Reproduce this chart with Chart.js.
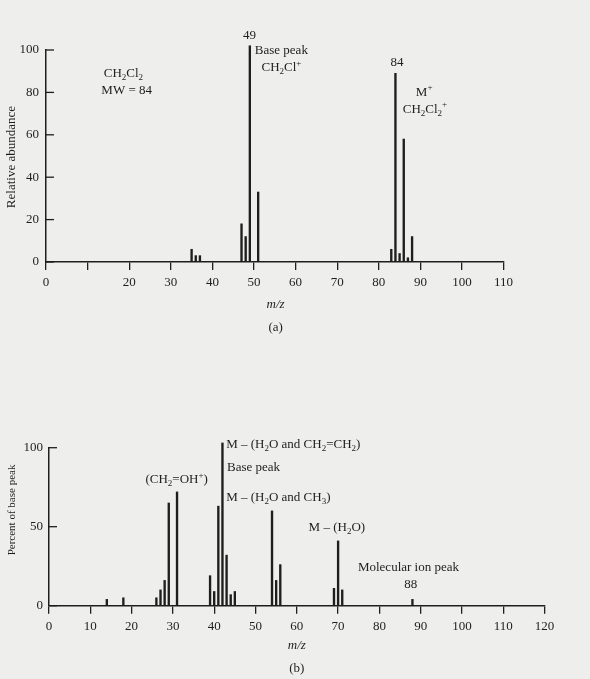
<!DOCTYPE html>
<html>
<head>
<meta charset="utf-8">
<script src="https://cdn.jsdelivr.net/npm/chart.js@4.4.0/dist/chart.umd.min.js"></script>
<style>
  html, body { margin: 0; padding: 0; background: #eeeeec; }
  #wrap { position: relative; width: 590px; height: 679px; overflow: hidden; }
  canvas { position: absolute; left: 0; }
</style>
</head>
<body>
<div id="wrap">
  <canvas id="spectrum-a" width="590" height="340" style="top:0"></canvas>
  <canvas id="spectrum-b" width="590" height="339" style="top:340px"></canvas>
</div>
<script>
// (a) CH2Cl2 spectrum
const mzA = [35, 36, 37, 47, 48, 49, 51, 83, 84, 85, 86, 87, 88];
const abundanceA = [6, 3, 3, 18, 12, 102, 33, 6, 89, 4, 58, 2, 12];
const yTicksA = [0, 20, 40, 60, 80, 100];

// (b) molecular ion 88 spectrum
const mzB = [14, 18, 26, 27, 28, 29, 31, 39, 40, 41, 42, 43, 44, 45, 54, 55, 56, 69, 70, 71, 88];
const percentB = [4, 5, 5, 10, 16, 65, 72, 19, 9, 63, 103, 32, 7, 9, 60, 16, 26, 11, 41, 10, 4];
const yTicksB = [0, 50, 100];

const INK = '#1e1e1e';
const SERIF = '"Liberation Serif", "Times New Roman", serif';

Chart.defaults.font.family = SERIF;
Chart.defaults.font.size = 13;
Chart.defaults.color = INK;

// draws text with sub/superscript parts: [text, 'sub'|'sup'|undefined]
function drawRich(ctx, parts, x, y, align, size, italic) {
    const style = italic ? 'italic ' : '';
    const fontFor = kind => style + (kind ? Math.round(size * 0.7) : size) + 'px ' + SERIF;
    let total = 0;
    parts.forEach(p => { ctx.font = fontFor(p[1]); total += ctx.measureText(p[0]).width; });
    let cx = align === 'center' ? x - total / 2 : (align === 'right' ? x - total : x);
    ctx.textAlign = 'left';
    ctx.textBaseline = 'middle';
    parts.forEach(p => {
        ctx.font = fontFor(p[1]);
        let dy = 0;
        if (p[1] === 'sub') dy = size * 0.3;
        if (p[1] === 'sup') dy = -size * 0.35;
        ctx.fillText(p[0], cx, y + dy);
        cx += ctx.measureText(p[0]).width;
    });
}

// y tick marks point into the plot, like the printed figure
const inwardTicks = {
    id: 'inwardTicks',
    afterDraw(chart, args, opts) {
        const ctx = chart.ctx;
        const y = chart.scales.y;
        const left = chart.chartArea.left;
        ctx.save();
        ctx.strokeStyle = INK;
        ctx.lineWidth = 1.3;
        y.ticks.forEach(t => {
            const py = y.getPixelForValue(t.value);
            ctx.beginPath();
            ctx.moveTo(left, py);
            ctx.lineTo(left + opts.length, py);
            ctx.stroke();
        });
        ctx.restore();
    }
};

// text labels placed in data coordinates (m/z, intensity)
const labels = {
    id: 'labels',
    afterDraw(chart, args, opts) {
        const ctx = chart.ctx;
        const xs = chart.scales.x, ys = chart.scales.y;
        ctx.save();
        ctx.fillStyle = INK;
        opts.items.forEach(it => {
            const px = xs.getPixelForValue(it.m);
            const py = ys.getPixelForValue(it.v);
            const size = it.size || 13;
            if (it.rotate) {
                ctx.save();
                ctx.translate(px, py);
                ctx.rotate(-Math.PI / 2);
                drawRich(ctx, it.parts, 0, 0, 'center', size, it.italic);
                ctx.restore();
            } else {
                drawRich(ctx, it.parts, px, py, it.align || 'center', size, it.italic);
            }
        });
        ctx.restore();
    }
};

function spectrumOptions(xMax, yStep, yWidth, xHeight, padding, labelPad, xCallback, items) {
    return {
        responsive: false,
        animation: false,
        layout: { padding: padding },
        plugins: {
            legend: { display: false },
            tooltip: { enabled: false },
            inwardTicks: { length: 8 },
            labels: { items: items }
        },
        scales: {
            x: {
                type: 'linear',
                min: 0,
                max: xMax,
                offset: false,
                grid: { offset: false, drawOnChartArea: false, drawTicks: true, tickLength: 8, color: INK, lineWidth: 1.3 },
                border: { color: INK, width: 1.5 },
                ticks: { stepSize: 10, autoSkip: false, maxRotation: 0, padding: 5, callback: xCallback },
                afterFit(scale) { scale.height = xHeight; }
            },
            y: {
                min: 0,
                max: 100,
                grid: { drawOnChartArea: false, drawTicks: false },
                border: { color: INK, width: 1.5 },
                ticks: { stepSize: yStep, padding: labelPad },
                afterFit(scale) { scale.width = yWidth; }
            }
        }
    };
}

new Chart(document.getElementById('spectrum-a'), {
    type: 'bar',
    data: {
        datasets: [{
            data: mzA.map((m, i) => ({ x: m, y: abundanceA[i] })),
            backgroundColor: INK,
            borderWidth: 0,
            barThickness: 1.7,
            clip: false
        }]
    },
    options: spectrumOptions(110, 20, 46, 78, { top: 50, right: 86.4, left: 0, bottom: 0 }, 7,
        v => (v === 10 ? '' : v),
        [
            { parts: [['49']], m: 48.9, v: 107 },
            { parts: [['Base peak']], m: 50.2, v: 99.5, align: 'left' },
            { parts: [['CH'], ['2', 'sub'], ['Cl'], ['+', 'sup']], m: 51.8, v: 91.5, align: 'left' },
            { parts: [['CH'], ['2', 'sub'], ['Cl'], ['2', 'sub']], m: 18.6, v: 89 },
            { parts: [['MW = 84']], m: 19.4, v: 81 },
            { parts: [['84']], m: 84.4, v: 94.3 },
            { parts: [['M'], ['+', 'sup']], m: 90.9, v: 80 },
            { parts: [['CH'], ['2', 'sub'], ['Cl'], ['2', 'sub'], ['+', 'sup']], m: 91.1, v: 72 },
            { parts: [['m/z']], m: 55.2, v: -20, italic: true },
            { parts: [['(a)']], m: 55.2, v: -30.7 },
            { parts: [['Relative abundance']], m: -8.2, v: 49.5, rotate: true }
        ]),
    plugins: [inwardTicks, labels]
});

new Chart(document.getElementById('spectrum-b'), {
    type: 'bar',
    data: {
        datasets: [{
            data: mzB.map((m, i) => ({ x: m, y: percentB[i] })),
            backgroundColor: INK,
            borderWidth: 0,
            barThickness: 1.7,
            clip: false
        }]
    },
    options: spectrumOptions(120, 50, 49, 73.3, { top: 107.7, right: 45.4, left: 0, bottom: 0 }, 6,
        v => v,
        [
            { parts: [['M – (H'], ['2', 'sub'], ['O and CH'], ['2', 'sub'], ['=CH'], ['2', 'sub'], [')']], m: 42.9, v: 101.7, align: 'left' },
            { parts: [['Base peak']], m: 43.1, v: 87.2, align: 'left' },
            { parts: [['M – (H'], ['2', 'sub'], ['O and CH'], ['3', 'sub'], [')']], m: 42.9, v: 68.2, align: 'left' },
            { parts: [['(CH'], ['2', 'sub'], ['=OH'], ['+', 'sup'], [')']], m: 30.9, v: 79.6 },
            { parts: [['M – (H'], ['2', 'sub'], ['O)']], m: 69.7, v: 49.2 },
            { parts: [['Molecular ion peak']], m: 74.8, v: 23.9, align: 'left' },
            { parts: [['88']], m: 87.6, v: 13.1 },
            { parts: [['m/z']], m: 60, v: -25.5, italic: true },
            { parts: [['(b)']], m: 60, v: -40 },
            { parts: [['Percent of base peak']], m: -9, v: 60.6, rotate: true, size: 11 }
        ]),
    plugins: [inwardTicks, labels]
});
</script>
</body>
</html>
